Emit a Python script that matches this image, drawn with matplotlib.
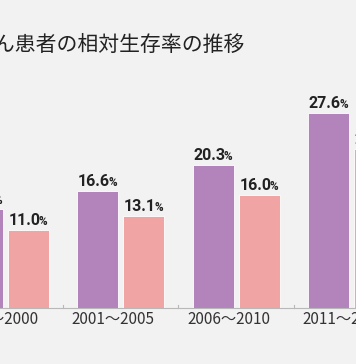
import matplotlib
matplotlib.use('Agg')
import matplotlib.pyplot as plt
from matplotlib import transforms

categories = ['1996〜2000', '2001〜2005', '2006〜2010', '2011〜2015']
series_a = [14.0, 16.6, 20.3, 27.6]
series_b = [11.0, 13.1, 16.0, 22.5]
title = 'がん患者の相対生存率の推移'

BG = '#f2f2f2'
C_A = '#b383bb'
C_B = '#f0a4a4'

W, H = 356, 364
fig = plt.figure(figsize=(W / 100, H / 100), dpi=100, facecolor=BG)
ax = fig.add_axes([0, 0, 1, 1])
ax.set_facecolor(BG)
ax.set_axis_off()

step = 115.5
x0 = 5
ax.set_xlim((0 - x0) / step, (W - x0) / step)
ppu = 7.05
base = 56
ax.set_ylim(-base / ppu, (H - base) / ppu)

bw = 41 / step
off = 23 / step
xs = list(range(len(categories)))
ax.bar([x - off for x in xs], series_a, width=bw, color=C_A, edgecolor='white', linewidth=0.6, zorder=2)
ax.bar([x + off for x in xs], series_b, width=bw, color=C_B, edgecolor='white', linewidth=0.6, zorder=2)

ax.axhline(0, color='#b8b8b8', linewidth=0.8, zorder=3)
for x in [i + 0.5 for i in range(-1, len(categories))]:
    ax.plot([x, x], [0, 3 / ppu], color='#b8b8b8', linewidth=0.8, zorder=3)

cjk = ['Noto Sans CJK JP', 'DejaVu Sans']
for x, c in zip(xs, categories):
    ax.text(x - 7.5 / step, -12 / ppu, c, ha='center', va='center', fontsize=11,
            family=cjk, color='#333333')

fig.text(245 / W, 1 - 45 / H, title, ha='right', va='center', fontsize=15,
         family=cjk, color='#222222')

renderer = fig.canvas.get_renderer()
num_font = dict(family=['Roboto', 'DejaVu Sans'], fontsize=11.5, fontweight='bold', color='#222222')
pct_font = dict(family=['Roboto', 'DejaVu Sans'], fontsize=8.5, fontweight='bold', color='#222222')


def label(xc, v):
    t1 = ax.text(xc, v, f'{v:.1f}', ha='left', va='baseline', **num_font)
    t2 = ax.text(xc, v, '%', ha='left', va='baseline', **pct_font)
    w1 = t1.get_window_extent(renderer).width - 1.5
    w2 = t2.get_window_extent(renderer).width
    total = w1 + w2
    t1.set_transform(transforms.offset_copy(ax.transData, fig, x=-total / 2, y=5, units='dots'))
    t2.set_transform(transforms.offset_copy(ax.transData, fig, x=-total / 2 + w1, y=5, units='dots'))


for x, a, b in zip(xs, series_a, series_b):
    label(x - off, a)
    label(x + off, b)

fig.savefig('out.png', dpi=100, facecolor=BG)
